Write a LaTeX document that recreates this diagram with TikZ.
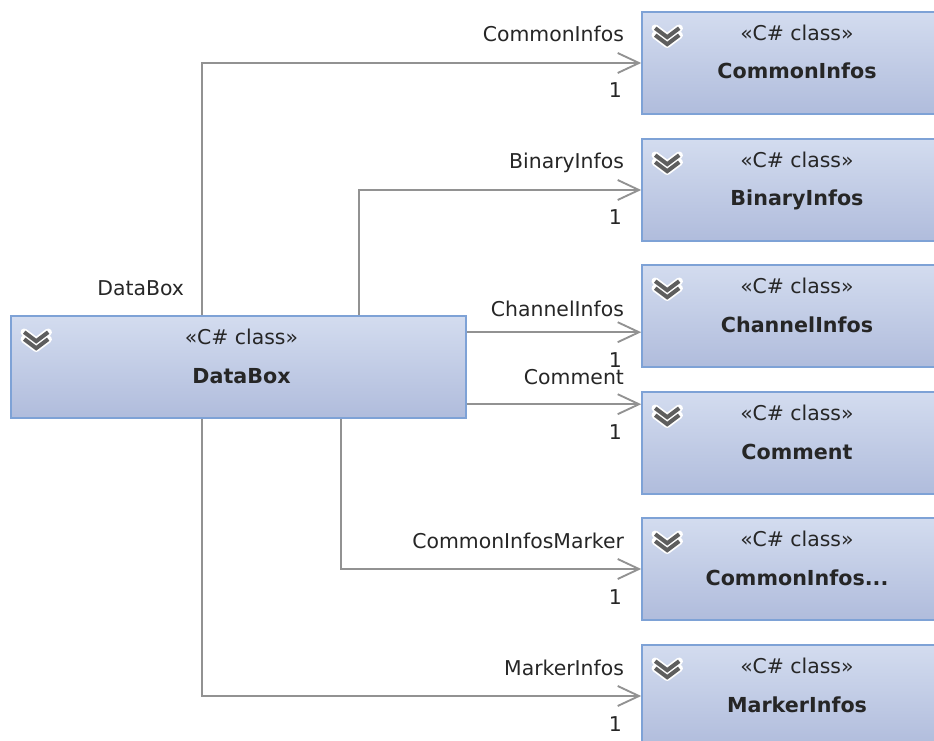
\documentclass[tikz,border=0pt]{standalone}
\usepackage{fontspec}
\setmainfont{DejaVu Sans}
\usetikzlibrary{arrows.meta,calc}

\definecolor{boxtop}{HTML}{D3DCEF}
\definecolor{boxbot}{HTML}{B0BCDC}
\definecolor{boxline}{HTML}{7EA2D6}
\definecolor{wire}{HTML}{929292}
\definecolor{ink}{HTML}{262626}
\definecolor{chevgray}{HTML}{5E5E5E}

% truncated class name (kept out of the \foreach list, which reads "..." itself)
\newcommand\cimtitle{CommonInfos...}

\tikzset{
  classbox/.style={draw=boxline, line width=1.2pt, top color=boxtop, bottom color=boxbot,
    minimum width=232.5pt, minimum height=76.5pt, inner sep=0pt},
  txt/.style={inner sep=0pt, text=ink, font=\fontsize{15.3}{18}\selectfont},
  stereo/.style={txt, anchor=base},
  cname/.style={txt, anchor=base, font=\fontsize{15.5}{18}\selectfont\bfseries},
  role/.style={txt, anchor=base east},
  conn/.style={draw=wire, line width=1.4pt, -{Straight Barb[length=16pt,width=15pt]}},
  chevron/.pic={
    \foreach \dy in {0,7}{
      \draw[white, line width=5.6pt, line cap=round, line join=round]
        (-12,\dy-9) -- (0,\dy) -- (12,\dy-9);}
    \foreach \dy in {0,7}{
      \draw[chevgray, line width=3pt]
        (-12,\dy-9) -- (0,\dy) -- (12,\dy-9);}
  }
}

\begin{document}
\begin{tikzpicture}[x=0.75pt, y=-0.75pt]
\useasboundingbox (0,0) rectangle (934,741);
\clip (0,0) rectangle (934,741);

% class boxes
\node[classbox, minimum width=341.25pt] (db) at (238.5,367) {};
\node[classbox] (b1) at (797,63) {};
\node[classbox] (b2) at (797,190) {};
\node[classbox] (b3) at (797,316) {};
\node[classbox] (b4) at (797,443) {};
\node[classbox] (b5) at (797,569) {};
\node[classbox] (b6) at (797,696) {};

% stereotype, class name and collapse icon of each box
\foreach \b/\t/\dx in {db/DataBox/3, b1/CommonInfos/0, b2/BinaryInfos/0,
    b3/ChannelInfos/0, b4/Comment/0, b5/\cimtitle/0, b6/MarkerInfos/0}{
  \node[stereo] (\b-st) at ($(\b)+(\dx,-22.5)$) {«C\# class»};
  \node[cname]  (\b-nm) at ($(\b)+(\dx,16)$) {\t};
  \pic at ($(\b.north west)+(26,26)$) {chevron};
}

% association end points
\coordinate (s1) at ($(db.north west)+(192,0)$);
\coordinate (s2) at ($(db.north west)+(349,0)$);
\coordinate (s3) at ($(db.north east)+(0,17)$);
\coordinate (s4) at ($(db.north east)+(0,89)$);
\coordinate (s5) at ($(db.south west)+(331,0)$);
\coordinate (s6) at ($(db.south west)+(192,0)$);
\coordinate (e1) at (b1.west);
\coordinate (e2) at (b2.west);
\coordinate (e3) at (s3 -| b3.west);
\coordinate (e4) at (s4 -| b4.west);
\coordinate (e5) at (b5.west);
\coordinate (e6) at (b6.west);

% associations
\draw[conn] (s1) |- (e1);
\draw[conn] (s2) |- (e2);
\draw[conn] (s3) -- (e3);
\draw[conn] (s4) -- (e4);
\draw[conn] (s5) |- (e5);
\draw[conn] (s6) |- (e6);

% role names and multiplicities
\foreach \e/\r/\up in {e1/CommonInfos/21, e2/BinaryInfos/21, e3/ChannelInfos/16,
    e4/Comment/20, e5/CommonInfosMarker/21, e6/MarkerInfos/21}{
  \node[role] (\e-role) at ($(\e)+(-17,-\up)$) {\r};
  \node[role] (\e-mult) at ($(\e)+(-19,35)$) {1};
}
\node[role] (s1-role) at ($(s1)+(-18,-20)$) {DataBox};
\end{tikzpicture}
\end{document}
